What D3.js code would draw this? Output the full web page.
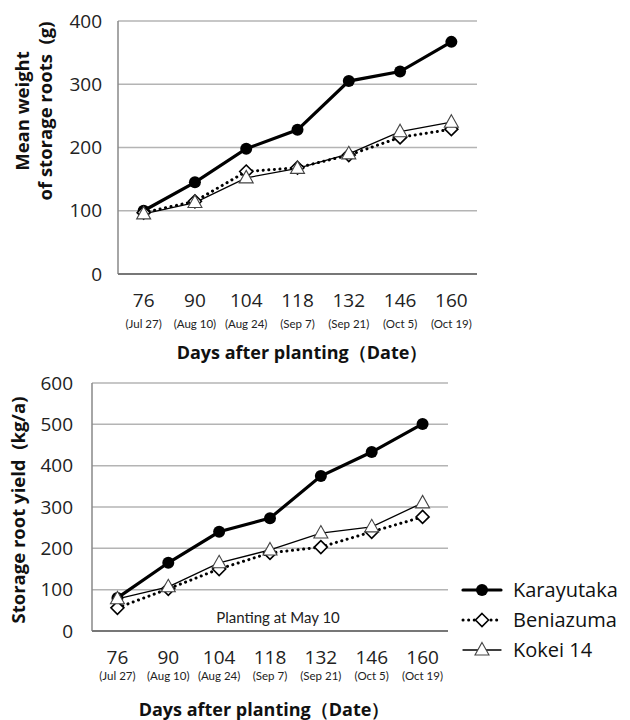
<!DOCTYPE html>
<html>
<head>
<meta charset="utf-8">
<script src="https://cdn.jsdelivr.net/npm/d3@7"></script>
<style>
  body { margin: 0; background: #fff; }
  svg { display: block; font-family: "Open Sans", "Noto Sans", sans-serif; }
</style>
</head>
<body>
<svg id="chart" width="630" height="720"></svg>
<script>
// days after planting and the matching dates
const days = ["76", "90", "104", "118", "132", "146", "160"];
const dates = ["(Jul 27)", "(Aug 10)", "(Aug 24)", "(Sep 7)", "(Sep 21)", "(Oct 5)", "(Oct 19)"];

// mean weight of storage roots (g)
const weightKarayutaka = [100, 145, 198, 228, 305, 320, 367];
const weightBeniazuma = [97, 115, 162, 168, 188, 216, 229];
const weightKokei = [95, 113, 152, 167, 190, 225, 240];

// storage root yield (kg/a)
const yieldKarayutaka = [80, 165, 240, 273, 375, 433, 501];
const yieldBeniazuma = [56, 102, 150, 189, 203, 240, 276];
const yieldKokei = [78, 107, 165, 196, 237, 252, 310];

const weightTicks = [0, 100, 200, 300, 400];
const yieldTicks = [0, 100, 200, 300, 400, 500, 600];

const seriesNames = ["Karayutaka", "Beniazuma", "Kokei 14"];

const svg = d3.select("#chart");

const styles = {
  "Karayutaka": { width: 3.2, dash: null, marker: "circle" },
  "Beniazuma": { width: 3, dash: "0.1,5.5", marker: "diamond" },
  "Kokei 14": { width: 1.3, dash: null, marker: "triangle" }
};

function marker(g, type, x, y) {
  if (type === "circle") {
    g.append("circle").attr("cx", x).attr("cy", y).attr("r", 6)
      .attr("fill", "#000");
  } else if (type === "diamond") {
    g.append("path")
      .attr("d", `M${x},${y - 6.5}L${x + 6.5},${y}L${x},${y + 6.5}L${x - 6.5},${y}Z`)
      .attr("fill", "#fff").attr("stroke", "#000").attr("stroke-width", 1.6);
  } else {
    g.append("path")
      .attr("d", `M${x},${y - 7.5}L${x + 7},${y + 5}L${x - 7},${y + 5}Z`)
      .attr("fill", "#fff").attr("stroke", "#444").attr("stroke-width", 1.1);
  }
}

function panel(opt) {
  const g = svg.append("g");
  const x = d3.scaleBand().domain(days).range([opt.left, opt.right]);
  const y = d3.scaleLinear().domain([0, opt.max]).range([opt.bottom, opt.top]);
  const cx = d => x(d) + x.bandwidth() / 2;

  // gridlines
  g.selectAll(".grid").data(opt.ticks.filter(t => t > 0)).enter()
    .append("line")
    .attr("x1", opt.left).attr("x2", opt.right)
    .attr("y1", d => y(d)).attr("y2", d => y(d))
    .attr("stroke", "#b4b4b4").attr("stroke-width", 1.5);

  // left axis and baseline
  g.append("line").attr("x1", opt.left).attr("x2", opt.left)
    .attr("y1", y(opt.max)).attr("y2", y(0))
    .attr("stroke", "#888").attr("stroke-width", 1.5);
  g.append("line").attr("x1", opt.left).attr("x2", opt.right)
    .attr("y1", y(0)).attr("y2", y(0))
    .attr("stroke", "#777").attr("stroke-width", 1.8);

  // y tick labels
  const ya = g.append("g").attr("transform", `translate(${opt.left},0)`)
    .call(d3.axisLeft(y).tickValues(opt.ticks).tickSize(0).tickPadding(opt.yPad));
  ya.select(".domain").remove();
  ya.selectAll("text").attr("font-size", 19).attr("fill", "#222")
    .attr("font-family", "Open Sans, sans-serif");

  // x tick labels: day numbers and dates
  const xa = g.append("g").attr("transform", `translate(0,${y(0)})`)
    .call(d3.axisBottom(x).tickSize(0).tickPadding(opt.xPad));
  xa.select(".domain").remove();
  xa.selectAll("text").attr("font-size", 19).attr("fill", "#222")
    .attr("font-family", "Open Sans, sans-serif");
  g.selectAll(".date").data(dates).enter().append("text")
    .attr("x", (d, i) => cx(days[i]))
    .attr("y", y(0) + opt.datePad)
    .attr("text-anchor", "middle")
    .attr("font-size", 11.5)
    .attr("font-family", "Lato, sans-serif")
    .attr("fill", "#222")
    .text(d => d);

  // x title
  g.append("text").attr("x", opt.titleX).attr("y", opt.titleY)
    .attr("text-anchor", "middle").attr("font-size", 18).attr("font-weight", "bold")
    .attr("fill", "#111")
    .text("Days after planting（Date）");

  // y title
  opt.yTitle.forEach((t, i) => {
    g.append("text")
      .attr("transform", `translate(${opt.yTitleX[i]},${opt.yTitleY}) rotate(-90)`)
      .attr("text-anchor", "middle").attr("font-size", 18.5).attr("font-weight", "bold")
      .attr("fill", "#111")
      .style("white-space", "pre")
      .text(t);
  });

  // series
  const line = d3.line().x((d, i) => cx(days[i])).y(d => y(d));
  opt.series.forEach((vals, si) => {
    const st = styles[seriesNames[si]];
    g.append("path").datum(vals).attr("d", line)
      .attr("fill", "none").attr("stroke", "#000")
      .attr("stroke-width", st.width)
      .attr("stroke-linecap", "round")
      .attr("stroke-dasharray", st.dash);
  });
  opt.series.forEach((vals, si) => {
    const st = styles[seriesNames[si]];
    vals.forEach((v, i) => marker(g, st.marker, cx(days[i]), y(v)));
  });
  return { g, x, y };
}

panel({
  left: 118, right: 477, top: 21, bottom: 274, max: 400,
  ticks: weightTicks, yPad: 16, xPad: 20, datePad: 54,
  titleX: 302, titleY: 359,
  yTitle: ["Mean weight", "of storage roots  (g)"], yTitleX: [29, 52], yTitleY: 111,
  series: [weightKarayutaka, weightBeniazuma, weightKokei]
});

const bottom = panel({
  left: 92, right: 448, top: 383, bottom: 631, max: 600,
  ticks: yieldTicks, yPad: 19, xPad: 20, datePad: 49,
  titleX: 264, titleY: 716,
  yTitle: ["Storage root yield  (kg/a)"], yTitleX: [25], yTitleY: 510,
  series: [yieldKarayutaka, yieldBeniazuma, yieldKokei]
});

bottom.g.append("text").attr("x", 278).attr("y", 623)
  .attr("text-anchor", "middle").attr("font-size", 15)
  .attr("font-family", "Lato, sans-serif")
  .attr("fill", "#222")
  .text("Planting at May 10");

// legend
const legend = svg.append("g");
seriesNames.forEach((name, i) => {
  const st = styles[name];
  const ly = 590 + i * 30;
  legend.append("line").attr("x1", 463).attr("x2", 501).attr("y1", ly).attr("y2", ly)
    .attr("stroke", "#000").attr("stroke-width", st.width)
    .attr("stroke-linecap", "round").attr("stroke-dasharray", st.dash);
  marker(legend, st.marker, 482, ly);
  legend.append("text").attr("x", 513).attr("y", ly + 7)
    .attr("font-size", 20).attr("fill", "#111").text(name);
});
</script>
</body>
</html>
